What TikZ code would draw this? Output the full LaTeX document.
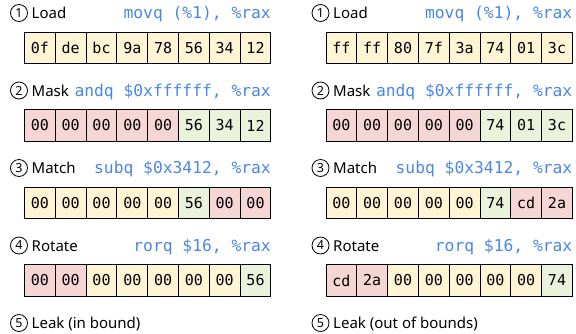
\documentclass[tikz,border=0pt]{standalone}
\usepackage{fontspec}
\setmainfont{Noto Sans}
\setmonofont{DejaVu Sans Mono}

\definecolor{codeblue}{HTML}{4A86E8}
\definecolor{celly}{HTML}{FFF4D4}
\definecolor{cellr}{HTML}{F6D5D5}
\definecolor{cellg}{HTML}{EBF2DC}

\tikzset{
    bytecell/.style={draw, line width=1pt, minimum width=30.8pt, minimum height=31.7pt,
        inner sep=0pt, outer sep=0pt, anchor=west, font=\fontsize{15}{17}\ttfamily},
    stepnum/.style={draw, circle, line width=0.8pt, minimum size=17pt, inner sep=0pt,
        font=\fontsize{12.5}{13}\selectfont},
    steplabel/.style={anchor=base west, inner sep=0pt, font=\fontsize{15}{17}\selectfont},
    asmcode/.style={anchor=base east, inner sep=0pt, text=codeblue,
        font=\fontsize{16.3}{18}\ttfamily},
}

\begin{document}
\begin{tikzpicture}[x=1pt, y=-1pt]
    \useasboundingbox (0,0) rectangle (576,333);

    % Left: in bound
    \node[stepnum] (a1n) at (19,13) {1};
    \node[steplabel] (a1t) at (31.5,18.5) {Load};
    \node[asmcode] (a1c) at (271,18.5) {movq (\%1), \%rax};
    \foreach \c/\v [count=\i from 0] in {y/0f,y/de,y/bc,y/9a,y/78,y/56,y/34,y/12}
        \node[bytecell, fill=cell\c] (a1-\i) at ({24.5+30.8*\i},48) {\v};

    \node[stepnum] (a2n) at (19,90.5) {2};
    \node[steplabel] (a2t) at (31.5,96) {Mask};
    \node[asmcode] (a2c) at (271,96) {andq \$0xffffff, \%rax};
    \foreach \c/\v [count=\i from 0] in {r/00,r/00,r/00,r/00,r/00,g/56,g/34,g/12}
        \node[bytecell, fill=cell\c] (a2-\i) at ({24.5+30.8*\i},125.5) {\v};

    \node[stepnum] (a3n) at (19,168) {3};
    \node[steplabel] (a3t) at (31.5,173.5) {Match};
    \node[asmcode] (a3c) at (271,173.5) {subq \$0x3412, \%rax};
    \foreach \c/\v [count=\i from 0] in {y/00,y/00,y/00,y/00,y/00,g/56,r/00,r/00}
        \node[bytecell, fill=cell\c] (a3-\i) at ({24.5+30.8*\i},203) {\v};

    \node[stepnum] (a4n) at (19,245.5) {4};
    \node[steplabel] (a4t) at (31.5,251) {Rotate};
    \node[asmcode] (a4c) at (271,251) {rorq \$16, \%rax};
    \foreach \c/\v [count=\i from 0] in {r/00,r/00,y/00,y/00,y/00,y/00,y/00,g/56}
        \node[bytecell, fill=cell\c] (a4-\i) at ({24.5+30.8*\i},280.5) {\v};

    \node[stepnum] (a5n) at (19,323) {5};
    \node[steplabel] (a5t) at (31.5,328.5) {Leak (in bound)};

    % Right: out of bounds
    \node[stepnum] (b1n) at (320.5,13) {1};
    \node[steplabel] (b1t) at (333,18.5) {Load};
    \node[asmcode] (b1c) at (572.5,18.5) {movq (\%1), \%rax};
    \foreach \c/\v [count=\i from 0] in {y/ff,y/ff,y/80,y/7f,y/3a,y/74,y/01,y/3c}
        \node[bytecell, fill=cell\c] (b1-\i) at ({326+30.8*\i},48) {\v};

    \node[stepnum] (b2n) at (320.5,90.5) {2};
    \node[steplabel] (b2t) at (333,96) {Mask};
    \node[asmcode] (b2c) at (572.5,96) {andq \$0xffffff, \%rax};
    \foreach \c/\v [count=\i from 0] in {r/00,r/00,r/00,r/00,r/00,g/74,g/01,g/3c}
        \node[bytecell, fill=cell\c] (b2-\i) at ({326+30.8*\i},125.5) {\v};

    \node[stepnum] (b3n) at (320.5,168) {3};
    \node[steplabel] (b3t) at (333,173.5) {Match};
    \node[asmcode] (b3c) at (572.5,173.5) {subq \$0x3412, \%rax};
    \foreach \c/\v [count=\i from 0] in {y/00,y/00,y/00,y/00,y/00,g/74,r/cd,r/2a}
        \node[bytecell, fill=cell\c] (b3-\i) at ({326+30.8*\i},203) {\v};

    \node[stepnum] (b4n) at (320.5,245.5) {4};
    \node[steplabel] (b4t) at (333,251) {Rotate};
    \node[asmcode] (b4c) at (572.5,251) {rorq \$16, \%rax};
    \foreach \c/\v [count=\i from 0] in {r/cd,r/2a,y/00,y/00,y/00,y/00,y/00,g/74}
        \node[bytecell, fill=cell\c] (b4-\i) at ({326+30.8*\i},280.5) {\v};

    \node[stepnum] (b5n) at (320.5,323) {5};
    \node[steplabel] (b5t) at (333,328.5) {Leak (out of bounds)};

\end{tikzpicture}
\end{document}
